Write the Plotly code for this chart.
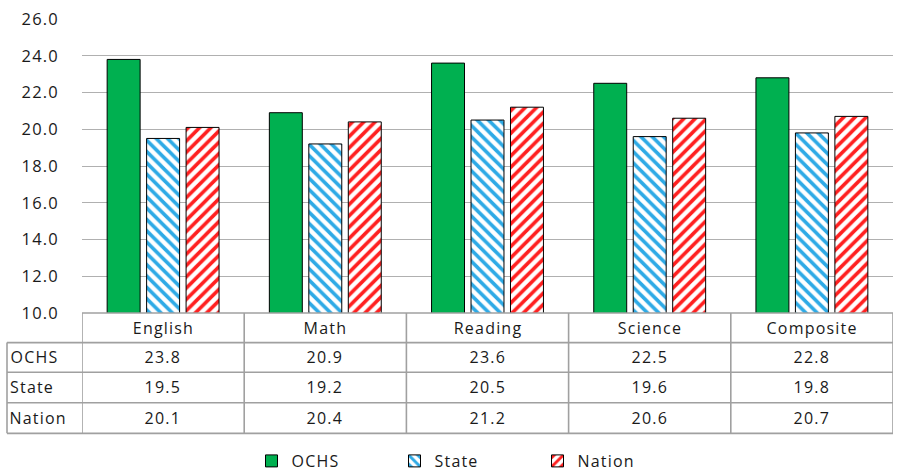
import plotly.graph_objects as go

subjects = ["English", "Math", "Reading", "Science", "Composite"]
ochs = [23.8, 20.9, 23.6, 22.5, 22.8]
state = [19.5, 19.2, 20.5, 19.6, 19.8]
nation = [20.1, 20.4, 21.2, 20.6, 20.7]
series_names = ["OCHS", "State", "Nation"]
y_ticks = [10, 12, 14, 16, 18, 20, 22, 24, 26]

FONT = "Open Sans"
GRID = "#b0b0b0"
TBL = "#a0a0a0"
TXT = "#1a1a1a"

fig = go.Figure()
fig.add_trace(go.Bar(name=series_names[0], x=subjects, y=ochs,
                     marker=dict(color="#00b050", line=dict(color="black", width=1))))
fig.add_trace(go.Bar(name=series_names[1], x=subjects, y=state,
                     marker=dict(color="white", line=dict(color="black", width=1),
                                 pattern=dict(shape="\\", fgcolor="#2eaae6", bgcolor="white",
                                              size=8, solidity=0.45, fillmode="replace"))))
fig.add_trace(go.Bar(name=series_names[2], x=subjects, y=nation,
                     marker=dict(color="white", line=dict(color="black", width=1),
                                 pattern=dict(shape="/", fgcolor="#ff2020", bgcolor="white",
                                              size=8, solidity=0.45, fillmode="replace"))))

W, H = 900, 473
L, R, T, B = 82, 7, 15, 160
plot_h = H - T - B
plot_w = W - L - R
row_px = [313, 343, 373, 404, 435]

def py(p):
    return (H - B - p) / plot_h

def px(p):
    return (p - L) / plot_w

shapes = []
line = dict(color=TBL, width=1.6)
shapes.append(dict(type="line", xref="x", yref="paper", x0=-0.5, x1=4.5, y0=py(row_px[0]), y1=py(row_px[0]), line=line))
for p in row_px[1:]:
    shapes.append(dict(type="line", xref="paper", yref="paper", x0=px(7), x1=1, y0=py(p), y1=py(p), line=line))
for i in range(len(subjects) + 1):
    shapes.append(dict(type="line", xref="x", yref="paper", x0=i - 0.5, x1=i - 0.5,
                       y0=py(row_px[0]), y1=py(row_px[-1]), line=line))
shapes.append(dict(type="line", xref="paper", yref="paper", x0=px(7), x1=px(7),
                   y0=py(row_px[1]), y1=py(row_px[-1]), line=line))

annotations = []
tfont = dict(family=FONT, size=16, color=TXT)
for s in subjects:
    annotations.append(dict(x=s, y=py((row_px[0] + row_px[1]) / 2), xref="x", yref="paper",
                            text=s, showarrow=False, font=tfont, xanchor="center", yanchor="middle"))
for r, (name, vals) in enumerate(zip(series_names, [ochs, state, nation])):
    yc = py((row_px[r + 1] + row_px[r + 2]) / 2)
    annotations.append(dict(x=px(11), y=yc, xref="paper", yref="paper", text=name, showarrow=False,
                            font=tfont, xanchor="left", yanchor="middle"))
    for s, v in zip(subjects, vals):
        annotations.append(dict(x=s, y=yc, xref="x", yref="paper", text=f"{v:.1f}", showarrow=False,
                                font=tfont, xanchor="center", yanchor="middle"))

fig.update_layout(
    width=W, height=H,
    margin=dict(l=L, r=R, t=T, b=B),
    paper_bgcolor="white", plot_bgcolor="white",
    barmode="group", bargap=0.27, bargroupgap=0.165,
    font=dict(family=FONT, size=16, color=TXT),
    xaxis=dict(showticklabels=False, showgrid=False, zeroline=False, showline=False,
               range=[-0.5, 4.5], ticks=""),
    yaxis=dict(range=[10, 26], tickvals=y_ticks, ticktext=[f"{v:.1f}" for v in y_ticks],
               showgrid=True, gridcolor=GRID, gridwidth=1, zeroline=False, showline=False,
               ticklabelstandoff=22, tickfont=dict(family=FONT, size=16.5, color=TXT)),
    legend=dict(orientation="h", xref="container", x=0.5 + 16 / W, xanchor="center",
                yref="container", y=1 - 461 / H, yanchor="middle",
                font=dict(family=FONT, size=16, color=TXT), itemwidth=30,
                entrywidth=98, traceorder="normal"),
    shapes=shapes, annotations=annotations,
)

post = ("document.body.style.margin='0';"
        "document.querySelectorAll('svg text').forEach(function(t){t.style.letterSpacing='1.2px';});")
fig.write_html("out.html", post_script=post, config={"displayModeBar": False})
